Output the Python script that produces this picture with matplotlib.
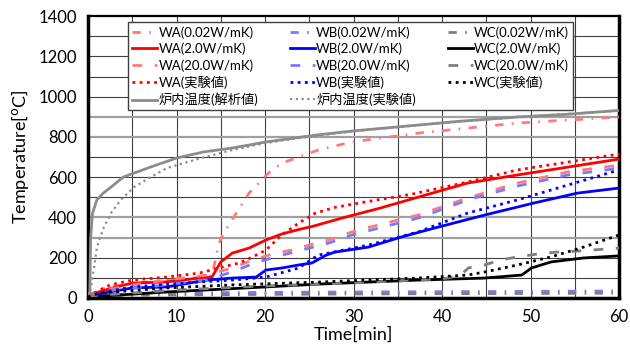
import matplotlib.pyplot as plt

plt.rcParams['font.family'] = ['Lato', 'Noto Sans CJK JP', 'DejaVu Sans']

# 炉内温度
t_furnace_calc = [0, 0.2, 0.3, 0.5, 1.0, 1.7, 2.6, 4.0, 7.1, 10.0, 13.0, 16.3, 20.1, 25.7, 30.0, 37.3, 42.0, 48.5, 54.0, 60.0]
furnace_calc = [20, 20, 300, 420, 487, 520, 551, 601, 651, 695, 725, 745, 775, 809, 830, 859, 878, 899, 912, 932]
t_furnace_exp = [0, 0.2, 0.4, 0.7, 1.0, 1.8, 2.6, 3.7, 5.2, 7.1, 8.9, 10.8, 12.8, 16.3, 20.1, 23.8, 27.0, 30.0, 37.3, 48.5, 60.0]
furnace_exp = [10, 20, 74, 154, 253, 353, 422, 487, 551, 601, 645, 670, 695, 735, 770, 794, 812, 828, 859, 899, 930]

# WA
t_wa_002 = [0, 2, 5, 8, 10, 12, 13.0, 14.0, 14.8, 15.4, 18.2, 19.3, 20.4, 21.9, 23.8, 26.0, 29.8, 37.3, 48.5, 60.0]
wa_002 = [15, 50, 72, 85, 90, 100, 104, 110, 273, 328, 521, 571, 621, 670, 700, 735, 775, 819, 869, 899]
t_wa_20 = [0, 2, 5, 8.9, 13.4, 16.3, 18.6, 21.2, 23.0, 25.0, 27.2, 29.8, 33.6, 37.3, 42.9, 48.5, 54.2, 60.0]
wa_20 = [15, 40, 65, 89, 114, 149, 189, 223, 238, 263, 288, 328, 372, 412, 497, 571, 626, 660]
t_wa_2 = [0, 3.2, 5.0, 8.9, 12.6, 14.0, 15.0, 16.3, 18.2, 20.1, 21.9, 23.8, 25.3, 29.1, 32.8, 37.3, 42.9, 48.5, 54.2, 60.0]
wa_2 = [15, 55, 74, 80, 99, 104, 179, 223, 248, 288, 318, 340, 355, 402, 444, 501, 571, 611, 650, 690]
t_wa_exp = [0, 0.4, 1.35, 2.5, 5.0, 8.9, 12.6, 15.2, 17.1, 18.6, 20.1, 21.9, 23.8, 25.7, 27.9, 31.7, 36.5, 42.9, 48.5, 54.2, 60.0]
wa_exp = [10, 15, 40, 65, 89, 104, 124, 154, 174, 204, 238, 313, 372, 422, 450, 480, 515, 576, 636, 675, 715]

# WB
t_wb_002 = [0, 5, 10, 20, 30, 45, 60]
wb_002 = [10, 20, 25, 28, 30, 32, 35]
t_wb_20 = [0, 3, 8.9, 13.4, 16.3, 18.6, 21.2, 23.0, 25.0, 27.2, 29.8, 37.3, 42.9, 48.5, 54.2, 60.0]
wb_20 = [12, 40, 65, 90, 130, 170, 205, 225, 248, 273, 313, 397, 487, 556, 611, 645]
t_wb_2 = [0, 5, 8.9, 13.4, 16.3, 19.0, 20.1, 21.9, 23.8, 25.3, 26.9, 27.9, 31.7, 35.4, 39.2, 44.8, 50.4, 55.3, 60.0]
wb_2 = [10, 50, 55, 89, 99, 104, 139, 149, 164, 174, 213, 228, 253, 303, 348, 412, 472, 521, 546]
t_wb_exp = [0, 2, 5, 12.6, 16.3, 20.1, 23.8, 26.0, 31.7, 37.3, 42.9, 48.5, 54.2, 60.0]
wb_exp = [5, 30, 55, 80, 89, 104, 149, 213, 263, 328, 422, 487, 561, 636]

# WC
t_wc_002 = [0, 10, 20, 30, 45, 60]
wc_002 = [10, 15, 18, 20, 22, 24]
t_wc_20 = [0, 10, 20, 30, 40, 42.0, 43.0, 44.8, 46.6, 48.5, 50.7, 53.0, 55.3, 60.0]
wc_20 = [10, 40, 60, 75, 95, 110, 150, 164, 189, 204, 218, 228, 233, 248]
t_wc_2 = [0, 8.9, 20.1, 26.0, 37.3, 44.8, 49.0, 50.1, 52.3, 56.0, 60.0]
wc_2 = [5, 30, 55, 69, 89, 99, 114, 149, 179, 199, 209]
t_wc_exp = [0, 1.3, 8.9, 16.3, 26.0, 37.3, 42.9, 44.8, 48.5, 52.3, 56.0, 60.0]
wc_exp = [5, 25, 50, 65, 79, 99, 114, 129, 164, 204, 253, 313]

red_l = '#ff7a7a'
blue_l = '#7a7aff'
gray_l = '#7f7f7f'
dashdot = (0, (3, 3, 0.6, 3))
dashed = (0, (3.5, 4.5))
dots = (0, (1, 1.6))

fig = plt.figure(figsize=(6.3, 3.51), dpi=100)
ax = fig.add_axes([0.1397, 0.151, 0.843, 0.803])

series = [
    (t_wa_002, wa_002, red_l, dashdot, 2.0, 'WA(0.02W/mK)'),
    (t_wa_2, wa_2, 'red', '-', 2.0, 'WA(2.0W/mK)'),
    (t_wa_20, wa_20, red_l, dashed, 2.0, 'WA(20.0W/mK)'),
    (t_wa_exp, wa_exp, 'red', dots, 2.0, 'WA(実験値)'),
    (t_furnace_calc, furnace_calc, '#8c8c8c', '-', 2.0, '炉内温度(解析値)'),
    (t_wb_002, wb_002, blue_l, dashdot, 2.0, 'WB(0.02W/mK)'),
    (t_wb_2, wb_2, 'blue', '-', 2.0, 'WB(2.0W/mK)'),
    (t_wb_20, wb_20, blue_l, dashed, 2.0, 'WB(20.0W/mK)'),
    (t_wb_exp, wb_exp, 'blue', dots, 2.0, 'WB(実験値)'),
    (t_furnace_exp, furnace_exp, '#8c8c8c', dots, 1.6, '炉内温度(実験値)'),
    (t_wc_002, wc_002, gray_l, dashdot, 2.0, 'WC(0.02W/mK)'),
    (t_wc_2, wc_2, 'black', '-', 2.0, 'WC(2.0W/mK)'),
    (t_wc_20, wc_20, gray_l, dashed, 2.0, 'WC(20.0W/mK)'),
    (t_wc_exp, wc_exp, 'black', dots, 2.0, 'WC(実験値)'),
]
for t, v, c, ls, lw, lab in series:
    ax.plot(t, v, color=c, linestyle=ls, linewidth=lw, label=lab, zorder=3)

# 目盛線
for x in range(5, 60, 5):
    ax.axvline(x, color='#404040', linewidth=0.8, zorder=1)
for y in range(100, 1400, 100):
    if y in (300, 400, 800, 900):
        ax.axhline(y, color='#a0a0a0', linewidth=1.6, zorder=1)
    else:
        ax.axhline(y, color='#404040', linewidth=0.8, zorder=1)

ax.set_xlim(0, 60)
ax.set_ylim(0, 1400)
ax.set_xticks(range(0, 61, 10))
ax.set_yticks(range(0, 1401, 200))
ax.tick_params(length=0, labelsize=12, pad=8)
ax.set_xlabel('Time[min]', fontsize=13, labelpad=1)
ax.set_ylabel('Temperature[$^{\\mathrm{o}}$C]', fontsize=13, labelpad=5)
for s in ['left', 'bottom', 'right']:
    ax.spines[s].set_linewidth(2.5)
ax.spines['top'].set_linewidth(1.6)

ax.legend(ncol=3, fontsize=9.5, loc='upper left', bbox_to_anchor=(0.0755, 0.979),
          handlelength=1.9, handletextpad=0.1, labelspacing=0.3,
          borderpad=0.3, borderaxespad=0, fancybox=False, edgecolor='#404040',
          framealpha=1, columnspacing=2.4)

plt.savefig('out.png', dpi=100)
